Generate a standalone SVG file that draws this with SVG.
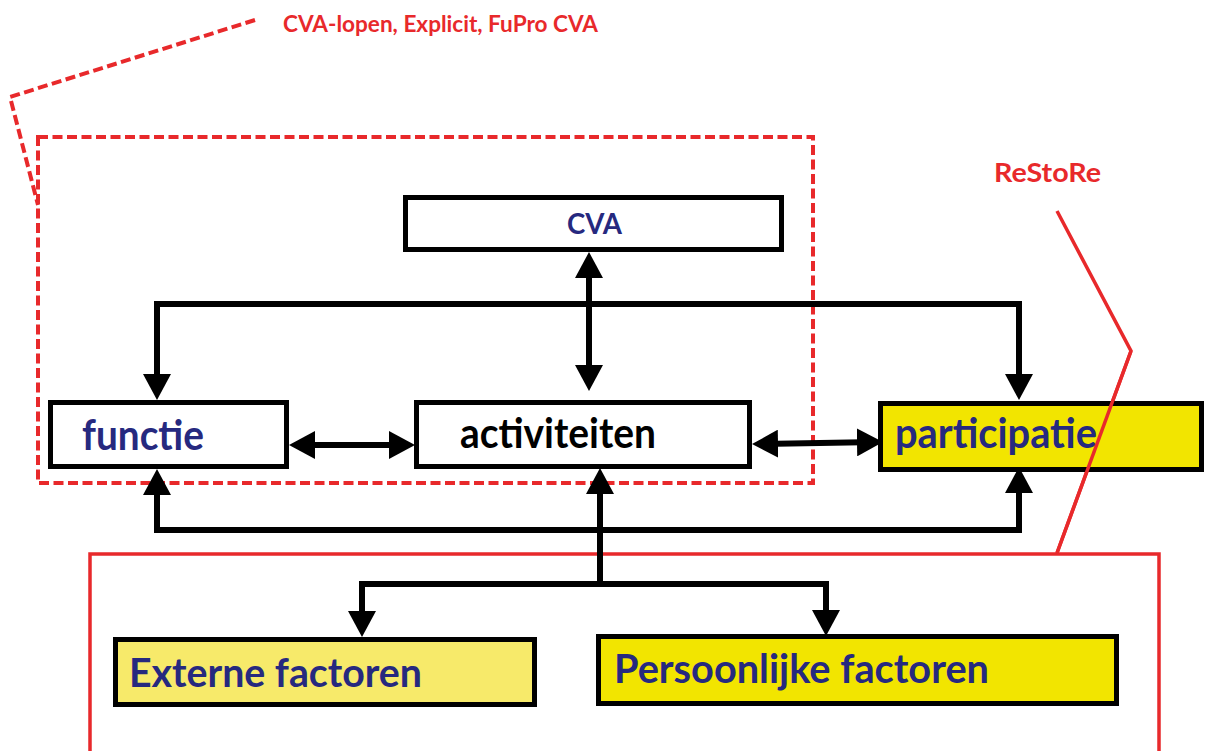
<svg xmlns="http://www.w3.org/2000/svg" width="1208" height="751" viewBox="0 0 1208 751">
  <style>
    .box { stroke: #000; stroke-width: 5; }
    .lbl { font-family: Lato, "Liberation Sans", sans-serif; font-weight: bold; }
    .navy { fill: #26297F; }
    .red { fill: #E8292B; }
    .conn { fill: none; stroke: #000; stroke-width: 6; }
    .dash { fill: none; stroke: #E8292B; stroke-width: 4; stroke-dasharray: 10 4.5; }
    .rline { fill: none; stroke: #E8292B; stroke-width: 3.5; }
  </style>
  <defs>
    <marker id="ah" markerUnits="userSpaceOnUse" markerWidth="26" markerHeight="28" refX="20" refY="14" orient="auto-start-reverse">
      <path d="M0,0 L26,14 L0,28 z" fill="#000"/>
    </marker>
  </defs>
  <rect width="1208" height="751" fill="#fff"/>

  <g id="annotations">
    <polyline class="dash" points="255,20 10,97 38,205"/>
    <rect class="dash" x="38" y="137" width="775" height="346"/>
    <text class="lbl red" x="283" y="32" font-size="23" textLength="315" lengthAdjust="spacingAndGlyphs">CVA-lopen, Explicit, FuPro CVA</text>
    <polyline class="rline" points="1057,211 1131,351 1057,553"/>
    <polyline class="rline" points="90,751 90,554 1159,554 1159,751"/>
    <text class="lbl red" x="994" y="182" font-size="27" textLength="107" lengthAdjust="spacingAndGlyphs">ReStoRe</text>
  </g>

  <g id="connectors">
    <path class="conn" d="M157,394 V304 H1019 V394" marker-start="url(#ah)" marker-end="url(#ah)"/>
    <path class="conn" d="M157,475 V530 H1019 V473" marker-start="url(#ah)" marker-end="url(#ah)"/>
    <path class="conn" d="M589,258 V385" marker-start="url(#ah)" marker-end="url(#ah)"/>
    <path class="conn" d="M295,445 H409" marker-start="url(#ah)" marker-end="url(#ah)"/>
    <path class="conn" d="M758,444 L877,442" marker-start="url(#ah)" marker-end="url(#ah)"/>
    <path class="conn" d="M600,584 V474" marker-end="url(#ah)"/>
    <path class="conn" d="M362,631 V584 H826 V630" marker-start="url(#ah)" marker-end="url(#ah)"/>
  </g>

  <g id="cva">
    <rect class="box" x="405.5" y="197.5" width="376" height="52" fill="#fff"/>
    <text class="lbl navy" x="567" y="234" font-size="29" textLength="55" lengthAdjust="spacingAndGlyphs">CVA</text>
  </g>
  <g id="functie">
    <rect class="box" x="50.5" y="402.5" width="236" height="64" fill="#fff"/>
    <text class="lbl navy" x="82" y="450" font-size="42" textLength="122" lengthAdjust="spacingAndGlyphs">functie</text>
  </g>
  <g id="activiteiten">
    <rect class="box" x="416.5" y="402.5" width="333" height="64" fill="#fff"/>
    <text class="lbl" x="460" y="448" font-size="42" fill="#000" textLength="196" lengthAdjust="spacingAndGlyphs">activiteiten</text>
  </g>
  <g id="participatie">
    <rect class="box" x="880.5" y="403.5" width="321" height="66" fill="#F2E500"/>
    <text class="lbl navy" x="895" y="448" font-size="42" textLength="202" lengthAdjust="spacingAndGlyphs">participatie</text>
  </g>
  <g id="externe">
    <rect class="box" x="115.5" y="639.5" width="419" height="65" fill="#F7EA6A"/>
    <text class="lbl navy" x="129" y="687" font-size="40" textLength="293" lengthAdjust="spacingAndGlyphs">Externe factoren</text>
  </g>
  <g id="persoonlijke">
    <rect class="box" x="598.5" y="636.5" width="518" height="67" fill="#F2E500"/>
    <text class="lbl navy" x="614" y="683" font-size="40" textLength="375" lengthAdjust="spacingAndGlyphs">Persoonlijke factoren</text>
  </g>
  <g id="overlay">
    <polyline class="rline" points="1131,351 1057,553"/>
  </g>
</svg>
